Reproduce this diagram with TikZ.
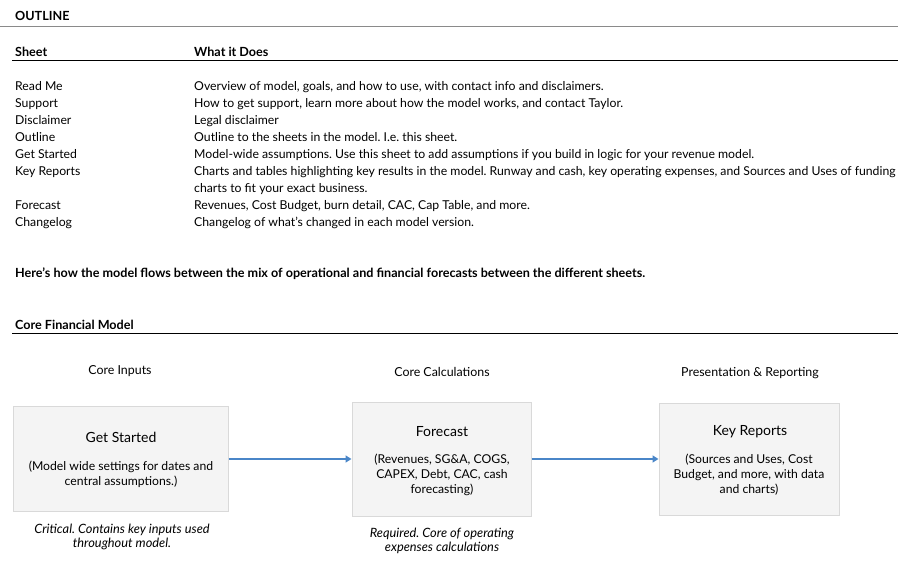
\documentclass[tikz,border=0pt]{standalone}
\usepackage{fontspec}
\setmainfont{Lato}
\frenchspacing
\usetikzlibrary{arrows.meta}
\definecolor{boxfill}{HTML}{F4F4F4}
\definecolor{boxline}{HTML}{D9D9D9}
\definecolor{arrowblue}{HTML}{4A86C8}
\definecolor{rulegray}{HTML}{8A8A8A}
\tikzset{
  txt/.style={anchor=base west, inner sep=0pt, font=\fontsize{12.25}{14}\selectfont},
  hdr/.style={txt, font=\fontsize{12.6}{14}\selectfont\bfseries},
  ctr/.style={anchor=base, inner sep=0pt, font=\fontsize{12.4}{14}\selectfont},
  boxtitle/.style={anchor=base, inner sep=0pt, font=\fontsize{14}{16}\selectfont},
  boxsub/.style={anchor=base, inner sep=0pt, align=center, font=\fontsize{12.2}{15}\selectfont},
  capt/.style={anchor=base, inner sep=0pt, align=center, font=\fontsize{12.8}{14}\selectfont\itshape},
  sheetbox/.style={draw=boxline, fill=boxfill, line width=1pt, inner sep=0pt},
  flow/.style={draw=arrowblue, line width=1.6pt, -{Triangle[length=6pt,width=7pt]}},
}
\begin{document}
\begin{tikzpicture}[x=1pt,y=-1pt]
\useasboundingbox (0,0) rectangle (898,583);
\begin{scope}
\clip (0,0) rectangle (898,583);
\node[hdr] (outline) at (15,21) {OUTLINE};
\draw[rulegray, line width=1pt] (0,27) -- (898,27);
\node[hdr] (sheet) at (15,57) {Sheet};
\node[hdr] (what) at (194,57) {What it Does};
\draw[black, line width=1pt] (12,61) -- (898,61);
\node[txt] (s1) at (15,91) {Read Me};
\node[txt] (d1) at (194,91) {Overview of model, goals, and how to use, with contact info and disclaimers.};
\node[txt] (s2) at (15,108) {Support};
\node[txt] (d2) at (194,108) {How to get support, learn more about how the model works, and contact Taylor.};
\node[txt] (s3) at (15,125) {Disclaimer};
\node[txt] (d3) at (194,125) {Legal disclaimer};
\node[txt] (s4) at (15,142) {Outline};
\node[txt] (d4) at (194,142) {Outline to the sheets in the model. I.e. this sheet.};
\node[txt] (s5) at (15,159) {Get Started};
\node[txt] (d5) at (194,159) {Model-wide assumptions. Use this sheet to add assumptions if you build in logic for your revenue model.};
\node[txt] (s6) at (15,176) {Key Reports};
\node[txt] (d6) at (194,176) {Charts and tables highlighting key results in the model. Runway and cash, key operating expenses, and Sources and Uses of funding};
\node[txt] (d6b) at (194,193) {charts to fit your exact business.};
\node[txt] (s7) at (15,210) {Forecast};
\node[txt] (d7) at (194,210) {Revenues, Cost Budget, burn detail, CAC, Cap Table, and more.};
\node[txt] (s8) at (15,227) {Changelog};
\node[txt] (d8) at (194,227) {Changelog of what's changed in each model version.};
\node[hdr] (flowtxt) at (15,277) {Here's how the model flows between the mix of operational and financial forecasts between the different sheets.};
\node[hdr] (core) at (15,329) {Core Financial Model};
\draw[black, line width=1pt] (12,333) -- (898,333);

\node[ctr] (h1) at (120,374) {Core Inputs};
\node[ctr] (h2) at (442,376) {Core Calculations};
\node[ctr] (h3) at (750,376) {Presentation \& Reporting};

\node[sheetbox, minimum width=215pt, minimum height=105pt] (b1) at (120.5,458.5) {};
\node[sheetbox, minimum width=179pt, minimum height=114pt] (b2) at (441.5,459) {};
\node[sheetbox, minimum width=180pt, minimum height=112pt] (b3) at (749,459) {};

\node[boxtitle] (t1) at (121,442) {Get Started};
\node[boxsub, anchor=north] (u1) at (121,461) {(Model wide settings for dates and\\central assumptions.)};
\node[boxtitle] (t2) at (442,436) {Forecast};
\node[boxsub, anchor=north] (u2) at (442,454) {(Revenues, SG\&A, COGS,\\CAPEX, Debt, CAC, cash\\forecasting)};
\node[boxtitle] (t3) at (750,435) {Key Reports};
\node[boxsub, anchor=north] (u3) at (749,454) {(Sources and Uses, Cost\\Budget, and more, with data\\and charts)};

\node[capt, anchor=north] (c1) at (122,524) {Critical. Contains key inputs used\\throughout model.};
\node[capt, anchor=north] (c2) at (442,528) {Required. Core of operating\\expenses calculations};

\draw[flow] (b1.east |- 0,459) -- (b2.west |- 0,459);
\draw[flow] (b2.east |- 0,459) -- (b3.west |- 0,459);
\end{scope}
\end{tikzpicture}
\end{document}
